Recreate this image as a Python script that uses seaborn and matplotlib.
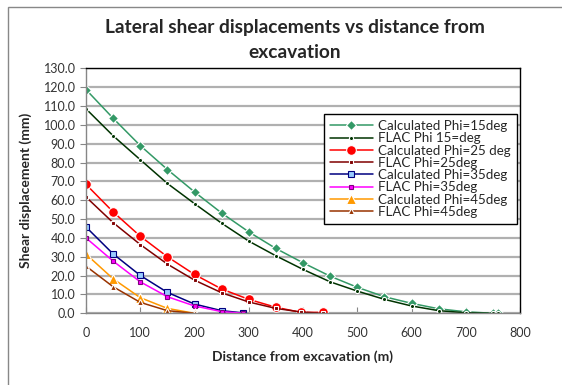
import matplotlib
matplotlib.use("Agg")
import matplotlib.pyplot as plt
import seaborn as sns
from matplotlib.patches import Rectangle
from matplotlib.ticker import FormatStrFormatter

# Data (distance in m, displacement in mm)
x_calc15 = [0, 50, 100, 150, 200, 250, 300, 350, 400, 450, 500, 550, 600, 650, 700, 750, 760]
y_calc15 = [118.7, 103.5, 89.0, 76.3, 64.4, 53.2, 43.2, 34.4, 26.8, 19.7, 13.8, 8.8, 5.3, 2.4, 0.8, 0.0, 0.0]
x_flac15 = [0, 50, 100, 150, 200, 250, 300, 350, 400, 450, 500, 550, 600, 650, 700, 750, 760]
y_flac15 = [108.5, 94.2, 81.5, 68.9, 58.2, 47.8, 38.3, 30.5, 23.3, 16.7, 11.8, 7.4, 3.9, 1.4, 0.3, 0.0, 0.0]

x_calc25 = [0, 50, 100, 150, 200, 250, 300, 350, 396, 436]
y_calc25 = [68.4, 53.8, 40.9, 30.0, 20.6, 12.9, 7.4, 3.2, 0.5, 0.5]
x_flac25 = [0, 50, 100, 150, 200, 250, 300, 350, 396, 436]
y_flac25 = [61.7, 48.1, 36.5, 26.1, 17.6, 10.9, 6.0, 2.6, 0.7, 0.0]

x_calc35 = [0, 50, 100, 150, 200, 250, 290]
y_calc35 = [45.8, 31.5, 20.1, 11.1, 4.9, 1.4, 0.2]
x_flac35 = [0, 50, 100, 150, 200, 250, 290]
y_flac35 = [40.0, 27.7, 16.7, 8.8, 3.9, 0.9, 0.0]

x_calc45 = [0, 50, 100, 150, 200]
y_calc45 = [31.4, 18.3, 8.3, 2.6, 0.0]
x_flac45 = [0, 50, 100, 150, 200]
y_flac45 = [25.0, 14.1, 5.8, 1.4, 0.0]

x_ticks = [0, 100, 200, 300, 400, 500, 600, 700, 800]
y_ticks = list(range(0, 131, 10))

sns.set_style("white")
plt.rcParams['font.family'] = ['Lato', 'DejaVu Sans']

fig = plt.figure(figsize=(5.62, 3.85), dpi=100)
ax = fig.add_axes([86 / 562, 1 - 313.3 / 385, (520 - 86) / 562, (313.3 - 68.3) / 385])

series = [
    (x_calc15, y_calc15, 'Calculated Phi=15deg', dict(color='#339966', marker='D', markersize=5.5)),
    (x_flac15, y_flac15, 'FLAC Phi 15=deg', dict(color='#003300', marker='o', markersize=3)),
    (x_calc25, y_calc25, 'Calculated Phi=25 deg', dict(color='#ff0000', marker='o', markersize=7)),
    (x_flac25, y_flac25, 'FLAC Phi=25deg', dict(color='#800000', marker='s', markersize=3)),
    (x_calc35, y_calc35, 'Calculated Phi=35deg', dict(color='#000080', marker='s', markersize=5,
                                                      markerfacecolor='#99ccff', markeredgecolor='#000080')),
    (x_flac35, y_flac35, 'FLAC Phi=35deg', dict(color='#ff00ff', marker='s', markersize=3,
                                                markeredgecolor='#800080')),
    (x_calc45, y_calc45, 'Calculated Phi=45deg', dict(color='#ff9900', marker='^', markersize=6.5)),
    (x_flac45, y_flac45, 'FLAC Phi=45deg', dict(color='#993300', marker='^', markersize=4)),
]

for xs, ys, name, style in series:
    sns.lineplot(x=xs, y=ys, ax=ax, label=name, linewidth=1.1, markeredgewidth=0.8,
                 sort=False, estimator=None, **style)

ax.set_xlim(0, 800)
ax.set_ylim(0, 130)
ax.set_xticks(x_ticks)
ax.set_yticks(y_ticks)
ax.yaxis.set_major_formatter(FormatStrFormatter('%.1f'))
ax.grid(axis='y', color='#b0b0b0', linewidth=1.6)
ax.grid(axis='x', visible=False)
ax.set_axisbelow(True)

for side in ['top', 'right']:
    ax.spines[side].set_color('black')
    ax.spines[side].set_linewidth(1.0)
for side in ['left', 'bottom']:
    ax.spines[side].set_color('#868686')
    ax.spines[side].set_linewidth(1.0)

ax.tick_params(axis='y', which='major', direction='out', length=4, color='#868686',
               labelsize=9, labelcolor='#333333', left=True)
ax.tick_params(axis='x', which='major', direction='in', length=4, color='#868686',
               labelsize=9, labelcolor='#333333', bottom=True, pad=10)

ax.set_xlabel('Distance from excavation (m)', fontsize=10, fontweight='bold', labelpad=8)
ax.set_ylabel('Shear displacement (mm)', fontsize=10, fontweight='bold', labelpad=8)

fig.suptitle('Lateral shear displacements vs distance from\nexcavation', x=0.525, y=0.95,
             fontsize=13.8, fontweight='bold', linespacing=1.55)

leg = ax.legend(loc='upper left', bbox_to_anchor=(324 / 562, 1 - 114 / 385),
                bbox_transform=fig.transFigure, borderaxespad=0, fontsize=9.6,
                frameon=True, fancybox=False, framealpha=1, edgecolor='black',
                handlelength=3.2, handletextpad=0.4, labelspacing=0.02, borderpad=0.45)
leg.get_frame().set_linewidth(1.0)

# chart area border
fig.patches.append(Rectangle((8 / 562, -0.1), 1.2, 1.1 - 7 / 385, transform=fig.transFigure,
                             fill=False, edgecolor='#888888', linewidth=1.0))

fig.savefig('out.png', dpi=100)
